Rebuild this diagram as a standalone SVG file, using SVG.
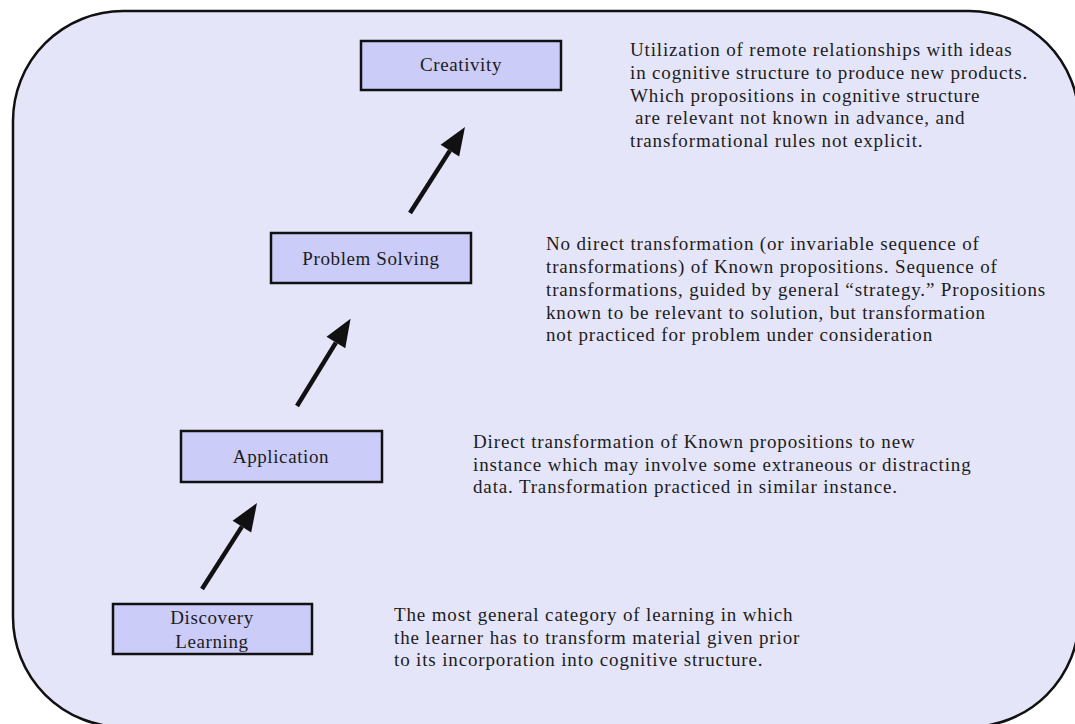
<svg xmlns="http://www.w3.org/2000/svg" width="1075" height="724" viewBox="0 0 1075 724">
  <style>
    .frame { fill: #e5e5f9; stroke: #111; stroke-width: 2.5; }
    .box { fill: #ccccf9; stroke: #111; stroke-width: 2.5; }
    .label { font-family: "Liberation Serif", "Times New Roman", serif; font-size: 19px; fill: #1c1c1c; text-anchor: middle; letter-spacing: 0.6px; }
    .note { font-family: "Liberation Serif", "Times New Roman", serif; font-size: 19px; fill: #1c1c1c; letter-spacing: 0.85px; }
    .arrow { stroke: #111; stroke-width: 4.5; fill: none; marker-end: url(#head); }
  </style>
  <defs>
    <marker id="head" markerUnits="userSpaceOnUse" markerWidth="30" markerHeight="26" refX="0" refY="12" orient="auto" overflow="visible">
      <path d="M0,1 L28,12 L0,23 Z" fill="#111"/>
    </marker>
  </defs>

  <!-- outer rounded panel -->
  <rect class="frame" x="13" y="11" width="1066" height="716" rx="110" ry="110"/>

  <!-- connectors -->
  <g id="connectors">
    <line class="arrow" x1="202" y1="589" x2="241.9" y2="526.6"/>
    <line class="arrow" x1="297" y1="406" x2="335.9" y2="342.6"/>
    <line class="arrow" x1="410" y1="213" x2="449.9" y2="150.6"/>
  </g>

  <g id="creativity">
    <rect class="box" x="361" y="41" width="200" height="49"/>
    <text class="label" x="461" y="71">Creativity</text>
    <text class="note" x="630" y="56">Utilization of remote relationships with ideas</text>
    <text class="note" x="630" y="78.75">in cognitive structure to produce new products.</text>
    <text class="note" x="630" y="101.5">Which propositions in cognitive structure</text>
    <text class="note" x="635" y="124.25">are relevant not known in advance, and</text>
    <text class="note" x="630" y="147">transformational rules not explicit.</text>
  </g>

  <g id="problem-solving">
    <rect class="box" x="271" y="233" width="200" height="50"/>
    <text class="label" x="371" y="265">Problem Solving</text>
    <text class="note" x="546" y="250">No direct transformation (or invariable sequence of</text>
    <text class="note" x="546" y="273">transformations) of Known propositions. Sequence of</text>
    <text class="note" x="546" y="296">transformations, guided by general “strategy.” Propositions</text>
    <text class="note" x="546" y="318.5">known to be relevant to solution, but transformation</text>
    <text class="note" x="546" y="341">not practiced for problem under consideration</text>
  </g>

  <g id="application">
    <rect class="box" x="181" y="431" width="201" height="51"/>
    <text class="label" x="281" y="463">Application</text>
    <text class="note" x="473" y="448">Direct transformation of Known propositions to new</text>
    <text class="note" x="473" y="471">instance which may involve some extraneous or distracting</text>
    <text class="note" x="473" y="493">data. Transformation practiced in similar instance.</text>
  </g>

  <g id="discovery-learning">
    <rect class="box" x="113" y="604" width="199" height="50"/>
    <text class="label" x="212" y="624">Discovery</text>
    <text class="label" x="212" y="648">Learning</text>
    <text class="note" x="394" y="621">The most general category of learning in which</text>
    <text class="note" x="394" y="644">the learner has to transform material given prior</text>
    <text class="note" x="394" y="666">to its incorporation into cognitive structure.</text>
  </g>
</svg>
